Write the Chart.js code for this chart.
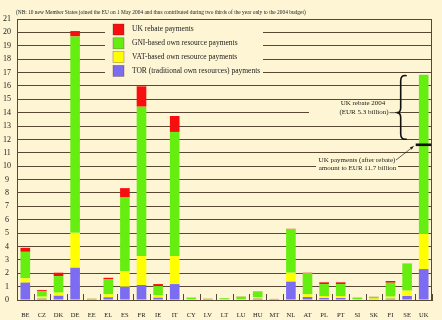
<!DOCTYPE html>
<html>
<head>
<meta charset="utf-8">
<script src="https://cdn.jsdelivr.net/npm/chart.js@4.4.0/dist/chart.umd.min.js"></script>
<style>
  html, body { margin: 0; padding: 0; background: #fdf5d4; }
  canvas { display: block; }
</style>
</head>
<body>
<canvas id="myChart" width="442" height="320"></canvas>
<script>
// EU own resources payments 2004, EUR billion

let countries = ['BE','CZ','DK','DE','EE','EL','ES','FR','IE','IT','CY','LV','LT','LU','HU','MT','NL','AT','PL','PT','SI','SK','FI','SE','UK'];
let torValues    = [1.3, 0.1, 0.32, 2.41, 0.02, 0.2, 0.99, 1.12, 0.17, 1.19, 0.03, 0.02, 0.03, 0.03, 0.1, 0.02, 1.37, 0.22, 0.15, 0.15, 0.03, 0.05, 0.1, 0.3, 2.31];
let vatValues    = [0.32, 0.15, 0.23, 2.61, 0.02, 0.22, 1.17, 2.16, 0.2, 2.09, 0.04, 0.02, 0.03, 0.03, 0.1, 0.02, 0.67, 0.2, 0.15, 0.15, 0.04, 0.06, 0.15, 0.4, 2.62];
let gniValues    = [1.98, 0.42, 1.24, 14.68, 0.05, 1.12, 5.5, 11.17, 0.67, 9.28, 0.1, 0.05, 0.07, 0.19, 0.42, 0.03, 3.24, 1.6, 0.89, 0.89, 0.1, 0.12, 1.04, 1.99, 11.91];
let rebateValues = [0.3, 0.07, 0.25, 0.4, 0.01, 0.12, 0.7, 1.52, 0.15, 1.19, 0.01, 0.01, 0.01, 0.01, 0.02, 0.01, 0.04, 0.02, 0.13, 0.13, 0.01, 0.01, 0.13, 0.02, 0];
let yTicks = [0, 21];
let ukTotal = 16.84;
let ukAfterRebate = 11.7;

let legendItems = [
    ['UK rebate payments', '#f70f0f'],
    ['GNI-based own resource payments', '#66ee11'],
    ['VAT-based own resource payments', '#ffff00'],
    ['TOR (traditional own resources) payments', '#7b6cf2']
];

let serif = "'Liberation Serif', 'DejaVu Serif', serif";
let gridColor = '#584733';
let bg = '#fdf5d4';

let extras = {
    id: 'extras',
    beforeDraw(chart) {
        let c = chart.ctx;
        c.save();
        c.fillStyle = bg;
        c.fillRect(0, 0, chart.width, chart.height);
        c.fillStyle = '#222';
        c.font = '5.4px ' + serif;
        c.textBaseline = 'middle';
        c.fillText('(NB: 10 new Member States joined the EU on 1 May 2004 and thus contributed during two thirds of the year only to the 2004 budget)', 16, 13);
        c.restore();
    },
    beforeDatasetsDraw(chart) {
        let c = chart.ctx;
        let a = chart.chartArea;
        c.save();
        // right border
        c.strokeStyle = gridColor;
        c.lineWidth = 1;
        c.beginPath();
        c.moveTo(a.right - 0.5, a.top);
        c.lineTo(a.right - 0.5, a.bottom);
        c.stroke();
        // small ticks between categories
        let x = chart.scales.x;
        let half = (x.getPixelForValue(1) - x.getPixelForValue(0)) / 2;
        for (let i = 0; i < countries.length; i++) {
            let px = Math.round(x.getPixelForValue(i) + half) + 0.5;
            c.beginPath();
            c.moveTo(px, a.bottom);
            c.lineTo(px, a.bottom - 6);
            c.stroke();
        }
        // legend
        c.fillStyle = bg;
        c.fillRect(105, a.top + 1.5, 158, 59);
        c.font = '7.5px ' + serif;
        c.textBaseline = 'middle';
        legendItems.forEach((it, i) => {
            let by = 24 + i * 13.8;
            c.fillStyle = it[1];
            c.fillRect(113, by, 11, 11);
            c.strokeStyle = 'rgba(80,40,20,0.5)';
            c.lineWidth = 0.6;
            c.strokeRect(113, by, 11, 11);
            c.fillStyle = '#222';
            c.fillText(it[0], 132, by + 5.5);
        });
        // text boxes over grid
        c.fillStyle = bg;
        c.fillRect(309, 108, 86, 9);
        c.fillRect(316, 155, 82, 17);
        c.restore();
    },
    afterDraw(chart) {
        let c = chart.ctx;
        let x = chart.scales.x;
        let y = chart.scales.y;
        let ukX = x.getPixelForValue(countries.length - 1);
        let yt = y.getPixelForValue(ukTotal);
        let yb = y.getPixelForValue(ukAfterRebate + 0.25);
        let ym = y.getPixelForValue(14);
        c.save();
        c.strokeStyle = '#111';
        c.fillStyle = '#111';
        // brace
        let xe = ukX - 17, xs = ukX - 23, xt = ukX - 27;
        c.lineWidth = 1.6;
        c.beginPath();
        c.moveTo(xe, yt + 1);
        c.quadraticCurveTo(xs, yt, xs, yt + 6);
        c.lineTo(xs, ym - 5);
        c.quadraticCurveTo(xs, ym, xt, ym);
        c.quadraticCurveTo(xs, ym, xs, ym + 5);
        c.lineTo(xs, yb - 6);
        c.quadraticCurveTo(xs, yb, xe, yb - 1);
        c.stroke();
        // thick mark on UK bar
        let ya = y.getPixelForValue(ukAfterRebate - 0.1);
        c.lineWidth = 2.6;
        c.beginPath();
        c.moveTo(ukX - 8, ya);
        c.lineTo(ukX + 7.5, ya);
        c.stroke();
        // texts
        c.fillStyle = '#222';
        c.font = '7px ' + serif;
        c.textAlign = 'center';
        c.textBaseline = 'middle';
        c.fillText('UK rebate 2004', 363, 103);
        c.fillText('(EUR 5.3 billion)', 364, 112);
        c.fillText('UK payments (after rebate)', 357, 160);
        c.fillText('amount to EUR 11.7 billion', 357.5, 168);
        c.lineWidth = 0.7;
        c.strokeStyle = '#222';
        c.beginPath();
        c.moveTo(389.5, ym);
        c.lineTo(xt, ym);
        c.stroke();
        // arrow
        let ax0 = 396, ay0 = 160, ax1 = ukX - 10, ay1 = ya + 1.5;
        c.beginPath();
        c.moveTo(ax0, ay0);
        c.lineTo(ax1, ay1);
        c.stroke();
        let ang = Math.atan2(ay1 - ay0, ax1 - ax0);
        c.beginPath();
        c.moveTo(ax1, ay1);
        c.lineTo(ax1 - 4 * Math.cos(ang - 0.4), ay1 - 4 * Math.sin(ang - 0.4));
        c.lineTo(ax1 - 4 * Math.cos(ang + 0.4), ay1 - 4 * Math.sin(ang + 0.4));
        c.closePath();
        c.fill();
        c.restore();
    }
};

let ctx = document.querySelector('#myChart').getContext('2d');

let paymentsChart = new Chart(ctx, {
    type: 'bar',
    data: {
        labels: countries,
        datasets: [
            { label: 'TOR (traditional own resources) payments', data: torValues, backgroundColor: '#7b6cf2' },
            { label: 'VAT-based own resource payments', data: vatValues, backgroundColor: '#ffff00' },
            { label: 'GNI-based own resource payments', data: gniValues, backgroundColor: '#66ee11' },
            { label: 'UK rebate payments', data: rebateValues, backgroundColor: '#f70f0f' }
        ]
    },
    options: {
        responsive: false,
        devicePixelRatio: 1,
        animation: false,
        layout: { padding: { top: 19, right: 10, left: 0, bottom: 0 } },
        datasets: { bar: { categoryPercentage: 1, barPercentage: 0.58 } },
        plugins: {
            legend: { display: false },
            tooltip: { enabled: false }
        },
        scales: {
            x: {
                stacked: true,
                afterFit(s) { s.height = 20; },
                grid: { display: false },
                border: { display: true, color: gridColor },
                ticks: { color: '#222', padding: 3, maxRotation: 0, autoSkip: false, font: { family: serif, size: 6.5 } }
            },
            y: {
                stacked: true,
                min: yTicks[0],
                max: yTicks[1],
                afterFit(s) { s.width = 17; },
                grid: { color: gridColor, drawTicks: false },
                border: { display: true, color: gridColor },
                ticks: { stepSize: 1, color: '#222', padding: 6, crossAlign: 'center', font: { family: serif, size: 8 } }
            }
        }
    },
    plugins: [extras]
});
</script>
</body>
</html>
